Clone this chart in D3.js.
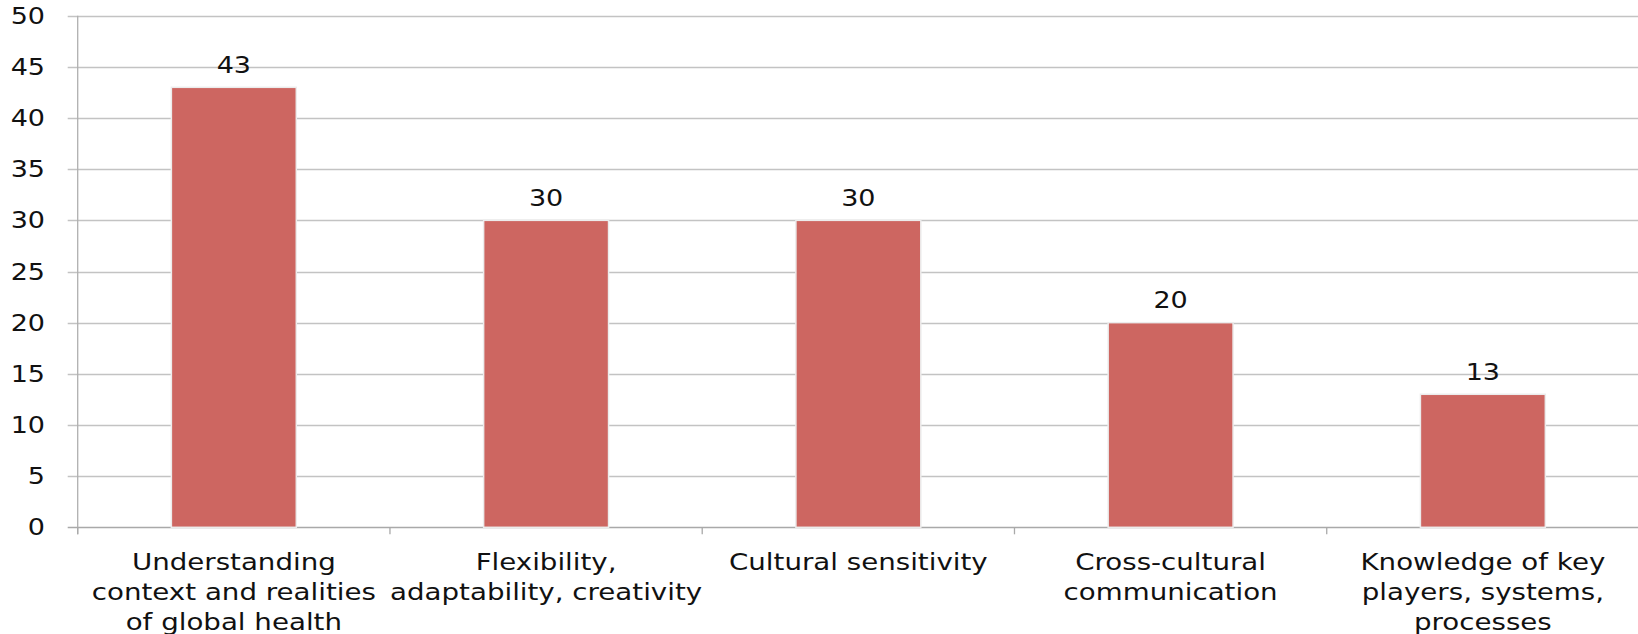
<!DOCTYPE html>
<html>
<head>
<meta charset="utf-8">
<script src="https://cdn.jsdelivr.net/npm/d3@7"></script>
<style>
  html, body { margin: 0; padding: 0; background: #fff; }
  svg { display: block; }
  text { font-family: "DejaVu Sans", Verdana, sans-serif; fill: #111; }
</style>
</head>
<body>
<svg id="chart" width="1638" height="634"></svg>
<script>
const categories = [
  "Understanding context and realities of global health",
  "Flexibility, adaptability, creativity",
  "Cultural sensitivity",
  "Cross-cultural communication",
  "Knowledge of key players, systems, processes"
];
const categoryLines = [
  ["Understanding", "context and realities", "of global health"],
  ["Flexibility,", "adaptability, creativity"],
  ["Cultural sensitivity"],
  ["Cross-cultural", "communication"],
  ["Knowledge of key", "players, systems,", "processes"]
];
const values = [43, 30, 30, 20, 13];
const yTicks = [0, 5, 10, 15, 20, 25, 30, 35, 40, 45, 50];

const W = 1638, H = 634;
const margin = { left: 77.7, right: -1, top: 15.7, bottom: 106.7 };
const fontSize = 22.5;
const stretch = 1.2;

const svg = d3.select("#chart");
const x = d3.scaleBand()
  .domain(categories)
  .range([margin.left, W - margin.right])
  .paddingInner(0.6)
  .paddingOuter(0.3);
const y = d3.scaleLinear()
  .domain([0, 50])
  .range([H - margin.bottom, margin.top]);

const step = x.step();

// gridlines
svg.append("g").selectAll("line")
  .data(yTicks)
  .join("line")
  .attr("x1", margin.left - 10)
  .attr("x2", W)
  .attr("y1", d => Math.round(y(d)) + 0.5)
  .attr("y2", d => Math.round(y(d)) + 0.5)
  .attr("stroke", d => d === 0 ? "#a9a9a9" : "#c3c3c3")
  .attr("stroke-width", 1.3);

// y axis line
svg.append("line")
  .attr("x1", margin.left).attr("x2", margin.left)
  .attr("y1", y(50)).attr("y2", y(0) + 7)
  .attr("stroke", "#b0b0b0").attr("stroke-width", 1.3);

// x axis tick marks at band boundaries
const boundaries = d3.range(categories.length + 1).map(i => margin.left + i * step);
svg.append("g").selectAll("line")
  .data(boundaries)
  .join("line")
  .attr("x1", d => d).attr("x2", d => d)
  .attr("y1", y(0)).attr("y2", y(0) + 7)
  .attr("stroke", "#a9a9a9").attr("stroke-width", 1.3);

// y tick labels
svg.append("g").selectAll("text")
  .data(yTicks)
  .join("text")
  .attr("transform", d => `translate(45,${y(d) + 8}) scale(${stretch},1)`)
  .attr("text-anchor", "end")
  .attr("font-size", fontSize)
  .text(d => d);

// bars
svg.append("g").selectAll("rect")
  .data(values)
  .join("rect")
  .attr("x", (d, i) => x(categories[i]))
  .attr("y", d => y(d))
  .attr("width", x.bandwidth())
  .attr("height", d => y(0) - y(d))
  .attr("fill", "#cd6661")
  .attr("stroke", "#ececec")
  .attr("stroke-width", 1.5);

// value labels
svg.append("g").selectAll("text")
  .data(values)
  .join("text")
  .attr("transform", (d, i) => `translate(${x(categories[i]) + x.bandwidth() / 2},${y(d) - 14.5}) scale(${stretch},1)`)
  .attr("text-anchor", "middle")
  .attr("font-size", fontSize)
  .text(d => d);

// category labels
const labelStretch = 1.23;
const lab = svg.append("g").selectAll("g")
  .data(categories)
  .join("g");
lab.each(function(c, i) {
  const cx = x(c) + x.bandwidth() / 2;
  d3.select(this).selectAll("text")
    .data(categoryLines[i])
    .join("text")
    .attr("transform", (t, j) => `translate(${cx},${y(0) + 42.5 + j * 30}) scale(${labelStretch},1)`)
    .attr("text-anchor", "middle")
    .attr("font-size", fontSize)
    .text(t => t);
});
</script>
</body>
</html>
